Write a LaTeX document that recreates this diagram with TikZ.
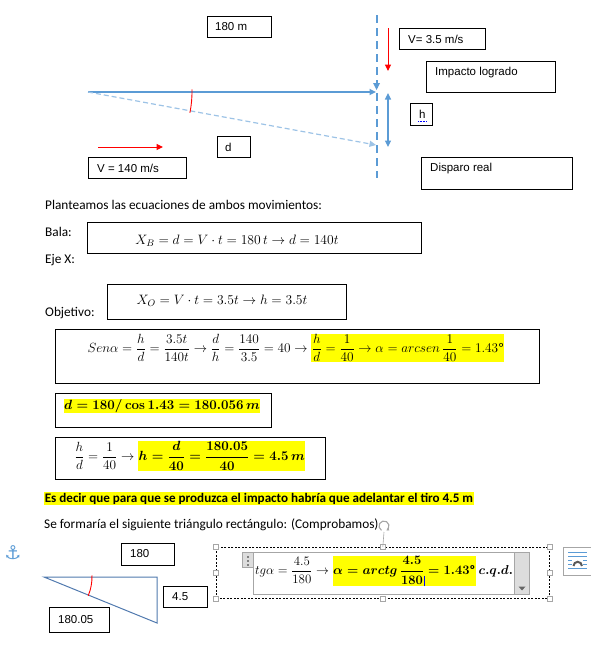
\RequirePackage{fix-cm}
\documentclass[tikz,border=0pt]{standalone}
\usepackage{amsmath}
\usepackage[no-math]{fontspec}
\setmainfont{Carlito}
\newfontfamily\lblfont{Liberation Sans}
\newfontfamily\symfont{DejaVu Sans}
\usetikzlibrary{arrows.meta}
\definecolor{wblue}{HTML}{5B9BD5}
\definecolor{wlight}{HTML}{9DC3E6}
\definecolor{tblue}{HTML}{5079AE}
\definecolor{hl}{HTML}{FFFF00}
\definecolor{uigray}{HTML}{A6A6A6}
\definecolor{scrollgray}{HTML}{DDDDDD}
\newcommand{\hlbox}[1]{{\setlength{\fboxsep}{0.6pt}\colorbox{hl}{#1}}}
\newcommand{\txtcursor}{\rlap{\hspace{0.8pt}\textcolor{blue}{\rule[-1.5pt]{0.8pt}{10pt}}}}
\begin{document}
\begin{tikzpicture}[x=1pt,y=-1pt,
  lbox/.style={draw, line width=0.9pt, anchor=north west, inner sep=0pt},
  ltext/.style={font=\lblfont\fontsize{11.5}{13}\selectfont, inner sep=0pt, anchor=west},
  ebox/.style={draw, line width=0.9pt, anchor=north west, inner sep=0pt},
  body/.style={font=\fontsize{13.3}{15}\selectfont, inner sep=0pt, anchor=base west},
  bodyb/.style={font=\bfseries\fontsize{13.1}{15}\selectfont, inner sep=0pt, anchor=base west},
  mth/.style={font=\fontsize{13.3}{16}\selectfont, inner sep=0pt},
  mthb/.style={font=\fontsize{13.6}{16}\selectfont, inner sep=0pt},
  mths/.style={font=\fontsize{12.9}{16}\selectfont, inner sep=0pt},
  tip/.style={-{Triangle[length=6.5pt,width=6pt]}},
  handle/.style={draw=uigray, fill=white, line width=0.6pt, minimum size=5pt, inner sep=0pt},
]
\useasboundingbox (0,0) rectangle (590,645);

% ---------------- top diagram ----------------
\coordinate (O) at (88,92);
\coordinate (VT) at (377,15);
\coordinate (VB) at (377,178);
\coordinate (Hit) at (376,92);
\coordinate (Real) at (376,145);
\draw[wblue, line width=2pt, dash pattern=on 8pt off 5pt] (VT) -- (VB);
\draw[wblue, line width=1.6pt, tip] (O) -- (Hit);
\draw[wlight, line width=1.2pt, dash pattern=on 5pt off 3pt, tip] (O) -- (Real);
\fill[wblue] (373,83) -- (380,83) -- (376.5,90) -- cycle;
\draw[red, line width=0.9pt] ([shift={(-1.5:104)}]O) arc[start angle=-1.5, end angle=11.5, radius=104];

\coordinate (RDa) at (388,28);
\coordinate (RDb) at (388,71);
\draw[red, line width=1pt, tip] (RDa) -- (RDb);
\coordinate (HDa) at (388,93);
\coordinate (HDb) at (388,147);
\draw[wblue, line width=1.2pt, {Triangle[length=6.5pt,width=6pt]}-{Triangle[length=6.5pt,width=6pt]}] (HDa) -- (HDb);
\coordinate (RRa) at (98,147);
\coordinate (RRb) at (163,147);
\draw[red, line width=1pt, tip] (RRa) -- (RRb);

\node[lbox, minimum width=64, minimum height=21] (B180) at (207,16) {};
\node[ltext] (T180) at (215,27) {180 m};
\node[lbox, minimum width=33, minimum height=21] (Bd) at (217,136) {};
\node[ltext] (Td) at (225,147) {d};
\node[lbox, minimum width=98, minimum height=21] (Bv1) at (88,157) {};
\node[ltext] (Tv1) at (97,168) {V = 140 m/s};
\node[lbox, minimum width=86, minimum height=21] (Bv2) at (399,28) {};
\node[ltext] (Tv2) at (408,39) {V= 3.5 m/s};
\node[lbox, minimum width=129, minimum height=31] (Bimp) at (426,61) {};
\node[ltext] (Timp) at (435,73) {Impacto logrado};
\node[lbox, minimum width=22, minimum height=22] (Bh) at (410,103) {};
\node[ltext] (Th) at (419,114) {h};
\draw[blue, densely dotted, line width=0.6pt] (418,121) -- (427,121);
\node[lbox, minimum width=151, minimum height=32] (Bdis) at (421,157) {};
\node[ltext] (Tdis) at (430,169) {Disparo real};

% ---------------- text and equations ----------------
\node[body] (P1) at (45,209) {Planteamos las ecuaciones de ambos movimientos:};
\node[body] (P2) at (45,236) {Bala:};
\node[body] (P3) at (45,263) {Eje X:};
\node[ebox, minimum width=334, minimum height=31] (E1) at (87,222) {};
\node[mthb] (M1) at (237,241) {$X_B = d = V\cdot t = 180\,t \rightarrow d = 140t$};

\node[body] (P4) at (45,316) {Objetivo:};
\node[ebox, minimum width=239, minimum height=35] (E2) at (107,284) {};
\node[mthb] (M2) at (222,301) {$X_O = V\cdot t = 3.5t \rightarrow h = 3.5t$};

\node[ebox, minimum width=484, minimum height=54] (E3) at (55,329) {};
\node[mth] (M3) at (296,348) {$\displaystyle Sen\alpha = \frac{h}{d} = \frac{3.5t}{140t} \rightarrow \frac{d}{h} = \frac{140}{3.5} = 40 \rightarrow \hlbox{$\displaystyle \frac{h}{d} = \frac{1}{40} \rightarrow \alpha = arcsen\,\frac{1}{40} = 1.43\mbox{º}$}$};

\node[ebox, minimum width=216, minimum height=34] (E4) at (55,393) {};
\node[mth] (M4) at (162,406) {\hlbox{\boldmath$d = 180/\cos 1.43 = 180.056\,m$}};

\node[ebox, minimum width=270, minimum height=42] (E5) at (55,437) {};
\node[mth] (M5) at (190,456) {$\displaystyle \frac{h}{d} = \frac{1}{40} \rightarrow \hlbox{\boldmath$\displaystyle h = \frac{d}{40} = \frac{180.05}{40} = 4.5\,m$}$};

\node[bodyb] (P5) at (44,502) {\hlbox{Es decir que para que se produzca el impacto habría que adelantar el tiro 4.5 m}};
\node[body] (P6) at (44,528) {Se formaría el siguiente triángulo rectángulo: (Comprobamos)};

% ---------------- bottom triangle ----------------
\coordinate (TA) at (44,577);
\coordinate (TB) at (157,577);
\coordinate (TC) at (157,623);
\draw[tblue, line width=1pt] (TA) -- (TB) -- (TC) -- cycle;
\draw[red, line width=0.9pt] ([shift={(-2:48)}]TA) arc[start angle=-2, end angle=23, radius=48];
\node[lbox, minimum width=53, minimum height=22] (B180b) at (121,543) {};
\node[ltext] (T180b) at (130,554) {180};
\node[lbox, minimum width=44, minimum height=21] (B45) at (163,586) {};
\node[ltext] (T45) at (172,597) {4.5};
\node[lbox, minimum width=60, minimum height=25] (B18005) at (49,607) {};
\node[ltext] (T18005) at (58,620) {180.05};

% ---------------- equation object (selected) ----------------
\node[draw=black, dash pattern=on 2pt off 1.5pt, line width=0.6pt, anchor=north west, minimum width=333, minimum height=51, inner sep=0pt] (Sel) at (216,547) {};
\node[draw=uigray, line width=0.8pt, anchor=north west, minimum width=276, minimum height=42, inner sep=0pt] (Eq) at (253,552) {};
\fill[scrollgray] (514.5,552.5) rectangle (528.6,593.6);
\draw[uigray, line width=0.6pt] (514.5,552.5) -- (514.5,593.6);
\fill[gray!80!black] (518.5,586.5) -- (525.5,586.5) -- (522,590.5) -- cycle;
\fill[scrollgray] (242,552) rectangle (253,567);
\draw[uigray, line width=0.6pt] (242,552) rectangle (253,567);
\foreach \yy in {555.5,559.5,563.5} \fill[gray] (246.5,\yy) rectangle (248.5,\yy+2);
\node[mths] (M6) at (384,571) {$\displaystyle tg\alpha = \frac{4.5}{180} \rightarrow \hlbox{\boldmath$\displaystyle \alpha = arctg\,\frac{4.5}{180\txtcursor} = 1.43$\textbf{º}}\ \mbox{\boldmath$c.q.d.$}$};
\foreach \p in {Sel.north west, Sel.north, Sel.north east, Sel.west, Sel.east, Sel.south west, Sel.south, Sel.south east}
  \node[handle] at (\p) {};
\coordinate (RotC) at (384,526);
\draw[uigray, line width=0.6pt] (384,532) -- (Sel.north);
\draw[uigray, line width=1.1pt, -{Triangle[length=2.5pt,width=3pt]}] ([shift={(120:5)}]RotC) arc[start angle=120, end angle=420, radius=5];

% anchor icon and layout options icon
\node[text=wblue, font=\symfont\fontsize{19}{19}\selectfont, inner sep=0pt] (Anc) at (13,553) {⚓};
\node[draw=uigray, fill=white, line width=0.6pt, anchor=north west, minimum width=28, minimum height=28, inner sep=0pt] (Lay) at (563,547) {};
\foreach \yy in {552,556,568} \draw[wblue, line width=0.9pt] (568,\yy) -- (587,\yy);
\foreach \yy in {560,564} {\draw[wblue, line width=0.9pt] (568,\yy) -- (572,\yy); \draw[wblue, line width=0.9pt] (583,\yy) -- (587,\yy);}
\draw[gray!70!black, line width=2pt] (573.5,566) arc[start angle=180, end angle=360, radius=4.2];
\end{tikzpicture}
\end{document}
